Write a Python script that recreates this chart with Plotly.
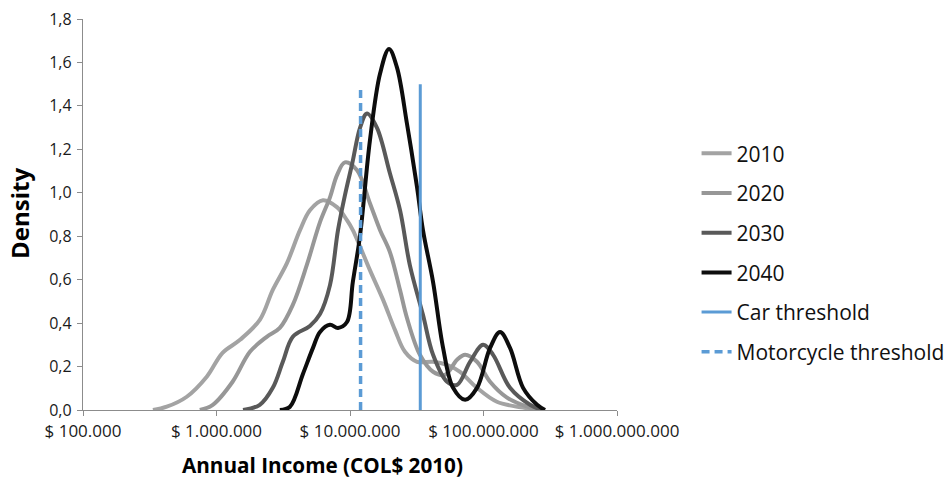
import plotly.graph_objects as go

# Annual income (COL$ 2010) and estimated density for each projection year
income_2010 = [3.34e5, 4.24e5, 5.99e5, 8.45e5, 1.11e6, 1.50e6, 2.11e6, 2.64e6, 3.37e6,
               4.22e6, 5.01e6, 6.27e6, 7.98e6, 9.49e6, 1.05e7, 1.41e7, 1.77e7, 2.17e7,
               2.58e7, 3.18e7, 4.19e7, 5.33e7, 6.67e7, 8.94e7, 1.26e8, 1.98e8, 2.65e8]
density_2010 = [0.0, 0.015, 0.061, 0.153, 0.263, 0.323, 0.415, 0.553, 0.676,
                0.828, 0.920, 0.966, 0.934, 0.874, 0.828, 0.644, 0.507, 0.369,
                0.268, 0.222, 0.222, 0.208, 0.176, 0.102, 0.038, 0.011, 0.0]

income_2020 = [7.50e5, 9.38e5, 1.32e6, 1.78e6, 2.38e6, 2.98e6, 3.73e6, 4.75e6, 5.96e6,
               7.08e6, 7.98e6, 9.16e6, 1.13e7, 1.41e7, 1.68e7, 1.99e7, 2.37e7, 2.67e7,
               3.34e7, 4.19e7, 5.15e7, 6.34e7, 7.28e7, 8.94e7, 1.12e8, 1.50e8, 2.23e8, 2.65e8]
density_2020 = [0.0, 0.024, 0.130, 0.268, 0.337, 0.378, 0.484, 0.668, 0.865,
                0.979, 1.080, 1.140, 1.104, 0.952, 0.828, 0.727, 0.552, 0.424,
                0.254, 0.176, 0.162, 0.231, 0.254, 0.222, 0.130, 0.057, 0.011, 0.0]

income_2030 = [1.58e6, 2.11e6, 2.64e6, 3.14e6, 3.73e6, 5.01e6, 5.96e6, 7.08e6, 8.13e6,
               9.16e6, 1.04e7, 1.19e7, 1.34e7, 1.59e7, 1.99e7, 2.37e7, 2.81e7, 3.52e7,
               4.19e7, 5.33e7, 6.34e7, 7.93e7, 9.93e7, 1.18e8, 1.58e8, 2.23e8, 2.75e8]
density_2030 = [0.0, 0.024, 0.102, 0.222, 0.337, 0.387, 0.442, 0.575, 0.828,
                0.988, 1.136, 1.300, 1.365, 1.300, 1.090, 0.920, 0.666, 0.438,
                0.254, 0.130, 0.116, 0.222, 0.300, 0.254, 0.102, 0.024, 0.0]

income_2040 = [2.98e6, 3.55e6, 4.44e6, 5.28e6, 5.96e6, 7.08e6, 8.13e6, 9.49e6, 1.05e7,
               1.19e7, 1.41e7, 1.68e7, 1.96e7, 2.25e7, 2.67e7, 3.18e7, 3.52e7, 4.19e7,
               4.98e7, 5.92e7, 7.28e7, 8.94e7, 1.12e8, 1.33e8, 1.58e8, 1.98e8, 2.52e8, 2.89e8]
density_2040 = [0.0, 0.015, 0.166, 0.286, 0.359, 0.392, 0.378, 0.405, 0.589,
                0.805, 1.241, 1.549, 1.662, 1.576, 1.319, 1.025, 0.828, 0.589,
                0.286, 0.102, 0.047, 0.102, 0.286, 0.359, 0.286, 0.102, 0.024, 0.0]

# Ownership thresholds (income) and the height of their marker lines
car_threshold = 3.36e7
motorcycle_threshold = 1.20e7
car_line_height = 1.50
motorcycle_line_height = 1.48

# Axis ticks
x_tickvals = [1e5, 1e6, 1e7, 1e8, 1e9]
x_ticktext = ["$ 100.000", "$ 1.000.000", "$ 10.000.000", "$ 100.000.000", "$ 1.000.000.000"]
y_tickvals = [0.0, 0.2, 0.4, 0.6, 0.8, 1.0, 1.2, 1.4, 1.6, 1.8]

FONT = "Open Sans"

fig = go.Figure()

series = [
    ("2010", income_2010, density_2010, "#a3a3a3"),
    ("2020", income_2020, density_2020, "#979797"),
    ("2030", income_2030, density_2030, "#595959"),
    ("2040", income_2040, density_2040, "#0d0d0d"),
]
for name, xs, ys, color in series:
    fig.add_trace(go.Scatter(
        x=xs, y=ys, name=name, mode="lines", legendgroup=name,
        line=dict(color=color, width=4, shape="spline", smoothing=1.0),
    ))

fig.add_trace(go.Scatter(
    x=[car_threshold, car_threshold], y=[0, car_line_height],
    name="Car threshold", mode="lines", legendgroup="car",
    line=dict(color="#5b9bd5", width=3),
))
fig.add_trace(go.Scatter(
    x=[motorcycle_threshold, motorcycle_threshold], y=[0, motorcycle_line_height],
    name="Motorcycle threshold", mode="lines", legendgroup="moto",
    line=dict(color="#5b9bd5", width=3.5, dash="8px,5px"),
))

fig.update_layout(
    width=951, height=484,
    margin=dict(l=83, r=334, t=19, b=74, autoexpand=False),
    paper_bgcolor="white", plot_bgcolor="white",
    separators=",.",
    font=dict(family=FONT, color="#1a1a1a"),
    showlegend=True,
    legend=dict(
        x=1.149, y=0.708, xanchor="left", yanchor="top",
        font=dict(family=FONT, size=21, color="#111111"),
        tracegroupgap=9.4, itemwidth=30,
        bgcolor="rgba(0,0,0,0)",
    ),
    annotations=[
        dict(text="<b>Annual Income (COL$ 2010)</b>", xref="paper", yref="paper",
             x=0.4476, y=-0.1407, xanchor="center", yanchor="middle", showarrow=False,
             font=dict(family=FONT, size=20.7, color="#000000")),
        dict(text="<b>Density</b>", xref="paper", yref="paper", textangle=-90,
             x=-0.118, y=0.504, xanchor="center", yanchor="middle", showarrow=False,
             font=dict(family=FONT, size=24, color="#000000")),
    ],
)

fig.update_xaxes(
    type="log", range=[5, 9],
    tickvals=x_tickvals, ticktext=x_ticktext,
    tickfont=dict(family=FONT, size=17, color="#1a1a1a"),
    showgrid=False, zeroline=False,
    showline=True, linecolor="#8c8c8c", linewidth=1.3,
    ticks="outside", ticklen=5, tickcolor="#8c8c8c", tickwidth=1.3,
)
fig.update_yaxes(
    range=[0, 1.8],
    tickvals=y_tickvals, tickformat=".1f",
    tickfont=dict(family=FONT, size=16, color="#1a1a1a"),
    showgrid=False, zeroline=False,
    showline=True, linecolor="#8c8c8c", linewidth=1.3,
    ticks="outside", ticklen=5, tickcolor="#8c8c8c", tickwidth=1.3,
    ticklabelstandoff=2,
)

fig.write_html("out.html")
